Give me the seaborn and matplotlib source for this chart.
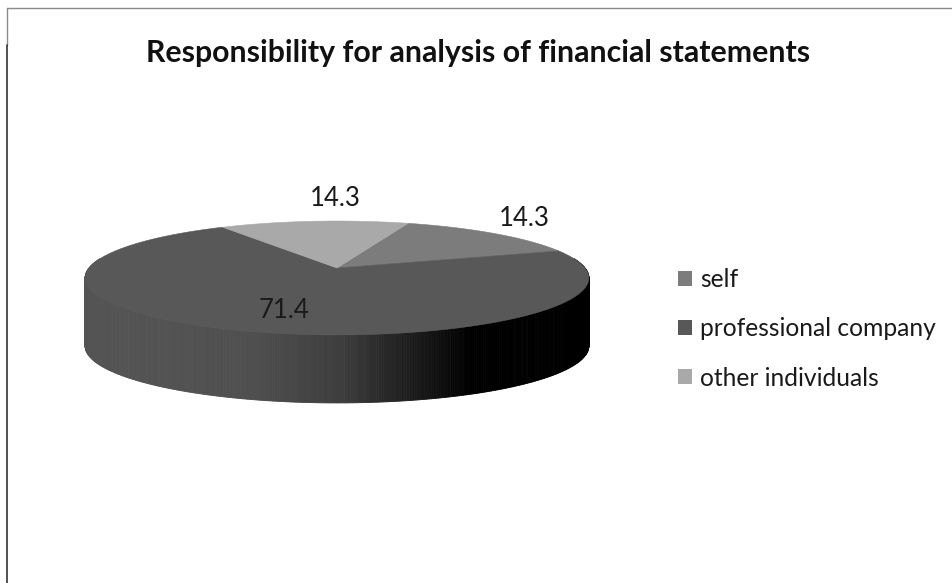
import numpy as np
import matplotlib
matplotlib.use("Agg")
import matplotlib.pyplot as plt
from matplotlib.collections import PolyCollection
from matplotlib.patches import Patch, Polygon
import seaborn as sns

# Survey shares, in percent
categories = ["self", "professional company", "other individuals"]
shares = [14.3, 71.4, 14.3]
title_text = "Responsibility for analysis of financial statements"

sns.set_theme(style="white")
plt.rcParams["font.family"] = ["Lato", "DejaVu Sans"]
palette = sns.color_palette(["#7c7c7c", "#585858", "#a9a9a9"])

fig = plt.figure(figsize=(9.53, 5.83), dpi=100)
ax = fig.add_axes([0, 0, 1, 1])
ax.set_xlim(0, 953)
ax.set_ylim(583, 0)
ax.axis("off")

# Perspective projection of the pie's top face
APEX_X, APEX_Y = 337, 268
WIDTH_K, DEPTH_K, TILT = 248.0, 55.2, 0.175
THICKNESS = 68
START_DEG = 19.5


def project(theta_deg):
    t = np.radians(theta_deg)
    u, v = np.sin(t), np.cos(t)
    d = 1 + TILT * v
    return APEX_X + WIDTH_K * u / d, APEX_Y - DEPTH_K * v / d


# Side wall: dark grey on the left fading to black at the right,
# only the part of the rim that faces the viewer
prof_from = START_DEG + shares[0] * 3.6
prof_to = prof_from + shares[1] * 3.6
angles = np.arange(max(prof_from, 80), min(prof_to, 280) + 0.5, 0.5)
strips, strip_cols = [], []
for a0, a1 in zip(angles[:-1], angles[1:]):
    x0, y0 = project(a0)
    x1, y1 = project(a1)
    strips.append([(x0, y0), (x1, y1), (x1, y1 + THICKNESS), (x0, y0 + THICKNESS)])
    xm = (x0 + x1) / 2
    level = np.interp(xm, [85, 250, 340, 440, 470, 590], [0.33, 0.31, 0.24, 0.06, 0.0, 0.0])
    strip_cols.append((level, level, level))
ax.add_collection(PolyCollection(strips, facecolors=strip_cols, edgecolors="face",
                                 linewidths=0.6, zorder=1))

# Top face wedges, clockwise from the start angle
cursor = START_DEG
for share, colour in zip(shares, palette):
    sweep = share * 3.6
    arc = np.linspace(cursor, cursor + sweep, 120)
    xs, ys = project(arc)
    pts = np.column_stack([np.r_[APEX_X, xs], np.r_[APEX_Y, ys]])
    ax.add_patch(Polygon(pts, closed=True, facecolor=colour, edgecolor=colour, lw=0.4, zorder=2))
    cursor += sweep

# Value labels
label_xy = [(524, 218), (284, 311), (335, 199)]
for share, (lx, ly) in zip(shares, label_xy):
    ax.text(lx, ly, f"{share}", ha="center", va="center", fontsize=18.5, color="#1a1a1a", zorder=3)

ax.text(478, 53, title_text, ha="center", va="center", fontsize=21.8, fontweight="bold", color="#111111")

handles = [Patch(facecolor=c, edgecolor="none", label=n) for c, n in zip(palette, categories)]
ax.legend(handles=handles, loc="center left", bbox_to_anchor=(678 / 953, 1 - 329 / 583),
          frameon=False, fontsize=17.7, handlelength=0.57, handleheight=0.57, handletextpad=0.33,
          labelspacing=1.06, borderpad=0, borderaxespad=0, labelcolor="#1a1a1a")

# Frame fragments around the chart area
ax.plot([7, 953], [8, 8], color="#8a8a8a", lw=1.0)
ax.plot([7, 7], [8, 45], color="#8a8a8a", lw=1.0)
ax.plot([7, 7], [45, 583], color="#222222", lw=1.1)

fig.savefig("out.png", dpi=100)
